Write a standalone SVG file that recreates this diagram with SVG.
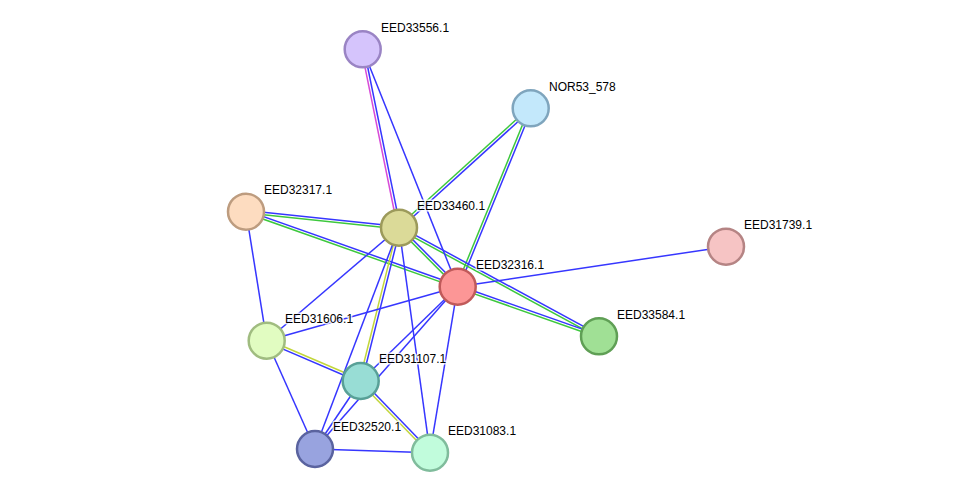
<svg xmlns="http://www.w3.org/2000/svg" width="976" height="498" viewBox="0 0 976 498">
<style>
.e{stroke-width:1.5;fill:none}
.b{stroke:#3636ff}
.g{stroke:#3dc83d}
.p{stroke:#d84ad8}
.y{stroke:#c2d63a}
.n circle{stroke-width:2.5}
.n text{font-family:"Liberation Sans",Arial,sans-serif;font-size:12px;fill:#000;stroke:#fff;stroke-width:3;stroke-opacity:0.8;paint-order:stroke;stroke-linejoin:round}
</style>
<rect width="976" height="498" fill="#fff"/>
<g id="connectors">
<line class="e p" x1="361.4" y1="49.6" x2="397.7" y2="228.0"/>
<line class="e b" x1="364.0" y1="49.0" x2="400.3" y2="227.4"/>
<line class="e g" x1="529.8" y1="107.3" x2="398.1" y2="226.7"/>
<line class="e b" x1="531.6" y1="109.3" x2="399.9" y2="228.7"/>
<line class="e g" x1="529.5" y1="107.8" x2="456.5" y2="286.2"/>
<line class="e b" x1="531.9" y1="108.8" x2="458.9" y2="287.2"/>
<line class="e b" x1="246.1" y1="210.4" x2="399.1" y2="226.4"/>
<line class="e g" x1="245.9" y1="213.0" x2="398.9" y2="229.0"/>
<line class="e b" x1="246.4" y1="210.5" x2="458.1" y2="285.5"/>
<line class="e g" x1="245.6" y1="212.9" x2="457.3" y2="287.9"/>
<line class="e b" x1="399.9" y1="226.8" x2="458.6" y2="285.8"/>
<line class="e g" x1="398.1" y1="228.6" x2="456.8" y2="287.6"/>
<line class="e b" x1="399.6" y1="226.6" x2="599.6" y2="335.2"/>
<line class="e g" x1="398.4" y1="228.8" x2="598.4" y2="337.4"/>
<line class="e b" x1="458.1" y1="285.5" x2="599.4" y2="335.1"/>
<line class="e g" x1="457.3" y1="287.9" x2="598.6" y2="337.5"/>
<line class="e y" x1="397.7" y1="227.4" x2="359.4" y2="380.7"/>
<line class="e b" x1="400.3" y1="228.0" x2="362.0" y2="381.3"/>
<line class="e y" x1="267.2" y1="339.5" x2="361.2" y2="379.8"/>
<line class="e b" x1="266.2" y1="341.9" x2="360.2" y2="382.2"/>
<line class="e y" x1="359.8" y1="381.9" x2="429.1" y2="453.6"/>
<line class="e b" x1="361.6" y1="380.1" x2="430.9" y2="451.8"/>
<line class="e b" x1="362.7" y1="49.3" x2="457.7" y2="286.7"/>
<line class="e b" x1="457.7" y1="286.7" x2="726" y2="246.7"/>
<line class="e b" x1="246" y1="211.7" x2="266.7" y2="340.7"/>
<line class="e b" x1="399" y1="227.7" x2="266.7" y2="340.7"/>
<line class="e b" x1="399" y1="227.7" x2="315" y2="449"/>
<line class="e b" x1="399" y1="227.7" x2="430" y2="452.7"/>
<line class="e b" x1="457.7" y1="286.7" x2="266.7" y2="340.7"/>
<line class="e b" x1="457.7" y1="286.7" x2="360.7" y2="381"/>
<line class="e b" x1="457.7" y1="286.7" x2="315" y2="449"/>
<line class="e b" x1="457.7" y1="286.7" x2="430" y2="452.7"/>
<line class="e b" x1="266.7" y1="340.7" x2="315" y2="449"/>
<line class="e b" x1="360.7" y1="381" x2="315" y2="449"/>
<line class="e b" x1="315" y1="449" x2="430" y2="452.7"/>
</g>
<g id="EED33556.1" class="n"><circle cx="362.7" cy="49.3" r="18" fill="#d5c4fc" stroke="#9a84c4"/><text x="381" y="32">EED33556.1</text></g>
<g id="NOR53_578" class="n"><circle cx="530.7" cy="108.3" r="18" fill="#c3e8fb" stroke="#7fa5bd"/><text x="549" y="91">NOR53_578</text></g>
<g id="EED32317.1" class="n"><circle cx="246" cy="211.7" r="18" fill="#fddcc0" stroke="#bd9c7f"/><text x="264" y="194">EED32317.1</text></g>
<g id="EED33460.1" class="n"><circle cx="399" cy="227.7" r="18" fill="#dbda98" stroke="#9c9a5b"/><text x="417" y="210">EED33460.1</text></g>
<g id="EED31739.1" class="n"><circle cx="726" cy="246.7" r="18" fill="#f6c4c4" stroke="#b58484"/><text x="744" y="229">EED31739.1</text></g>
<g id="EED32316.1" class="n"><circle cx="457.7" cy="286.7" r="18" fill="#fc9696" stroke="#c05a5a"/><text x="476" y="269">EED32316.1</text></g>
<g id="EED33584.1" class="n"><circle cx="599" cy="336.3" r="18" fill="#a0e095" stroke="#5f9f55"/><text x="617" y="319">EED33584.1</text></g>
<g id="EED31606.1" class="n"><circle cx="266.7" cy="340.7" r="18" fill="#e1fcc1" stroke="#a0bc80"/><text x="285" y="323">EED31606.1</text></g>
<g id="EED31107.1" class="n"><circle cx="360.7" cy="381" r="18" fill="#98ddd5" stroke="#58a097"/><text x="379" y="363">EED31107.1</text></g>
<g id="EED32520.1" class="n"><circle cx="315" cy="449" r="18" fill="#98a3df" stroke="#5a639f"/><text x="333" y="431">EED32520.1</text></g>
<g id="EED31083.1" class="n"><circle cx="430" cy="452.7" r="18" fill="#c1fcdc" stroke="#80bc9c"/><text x="448" y="435">EED31083.1</text></g>
</svg>
